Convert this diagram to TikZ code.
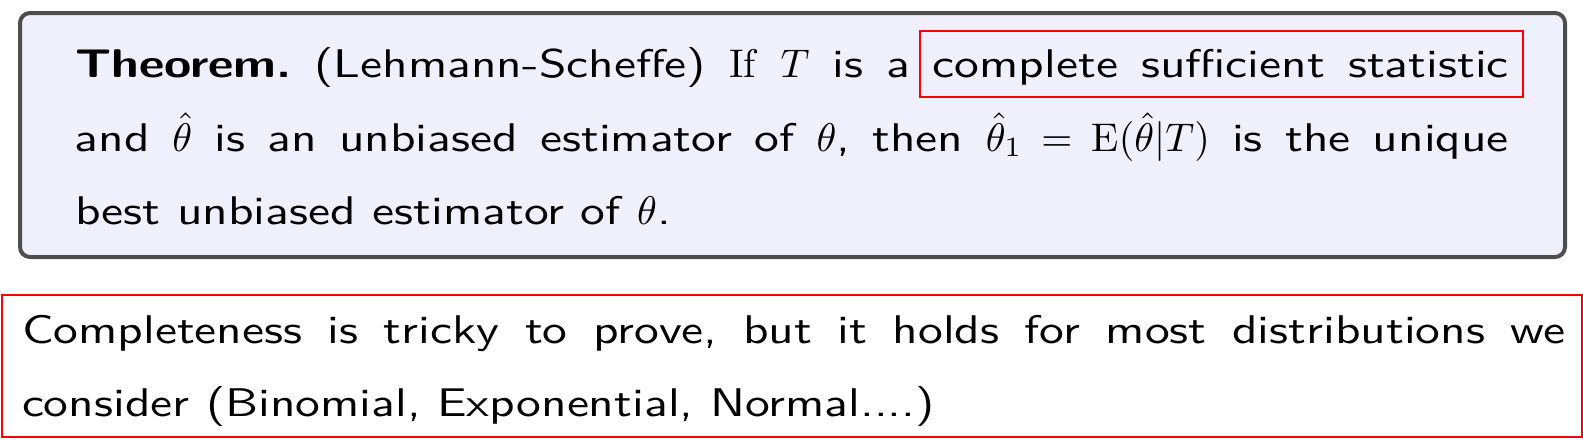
\documentclass[tikz,border=0pt]{standalone}
\usepackage{amsmath}
\usepackage{fontspec}
\setsansfont{lmsans10}[Extension = .otf, UprightFont = *-regular, BoldFont = *-bold, FakeStretch = 1.237]
\usetikzlibrary{positioning}

\definecolor{blockbg}{RGB}{240,240,252}
\definecolor{blockrim}{RGB}{78,78,78}

\begin{document}
\frenchspacing
\begin{tikzpicture}[
            x = 0.25pt, y = -0.25pt, % one unit = one pixel of the slide
            every node/.style = {inner sep = 0pt, outer sep = 0pt},
            slidetext/.style = {
                font = \sffamily\fontsize{10}{18.25}\selectfont,
                align = justify,
                anchor = base west
            },
            hilite/.style = {draw = red, line width = 0.5pt}
        ]

        \useasboundingbox (0,0) rectangle (1583,439);

        % theorem block
        \draw[blockrim, fill = blockbg, line width = 1pt, rounded corners = 2.5pt]
            (20,13) rectangle (1565,257);
        \node (thm) [slidetext, text width = 358.5pt] at (75,78)
            {\textbf{Theorem.} (Lehmann-Scheffe) \textrm{If} $T$ is a complete sufficient statistic\linebreak
             and $\hat{\theta}$ is an unbiased estimator of $\theta$, then $\hat{\theta}_1 = \mathrm{E}(\hat{\theta}|T)$ is the unique\linebreak
             best unbiased estimator of $\theta$.};
        \draw[hilite] (920,31) rectangle (1523,97);

        % remark below
        \draw[hilite] (2,295) rectangle (1582,437);
        \node (note) [slidetext, text width = 385.75pt] at (22,343)
            {Completeness is tricky to prove, but it holds for most distributions we\linebreak
             consider (Binomial, Exponential, Normal....)};
    \end{tikzpicture}
\end{document}
